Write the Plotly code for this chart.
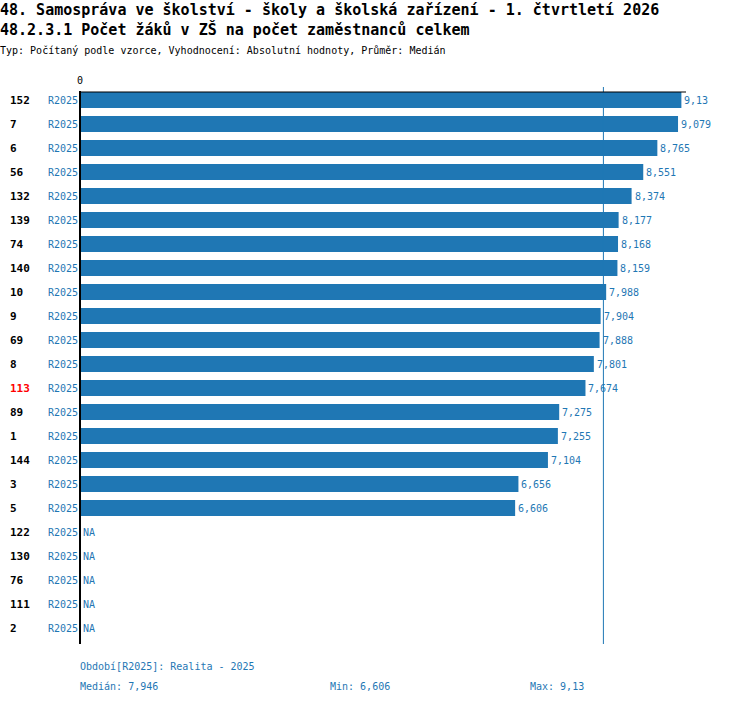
import plotly.graph_objects as go

# data
ids = ["152", "7", "6", "56", "132", "139", "74", "140", "10", "9", "69", "8",
       "113", "89", "1", "144", "3", "5", "122", "130", "76", "111", "2"]
values = [9.13, 9.079, 8.765, 8.551, 8.374, 8.177, 8.168, 8.159, 7.988, 7.904,
          7.888, 7.801, 7.674, 7.275, 7.255, 7.104, 6.656, 6.606,
          None, None, None, None, None]
period = "R2025"
highlight = "113"
median = 7.946
vmin = 6.606
vmax = 9.13

W, H = 750, 704
BLUE = "#1f77b4"
FONT = "DejaVu Sans Mono"


def px(p):
    return p / W


def py(p):
    return 1 - p / H


def fmt(v):
    return "NA" if v is None else f"{v:g}".replace(".", ",")


fig = go.Figure()

fig.add_trace(go.Bar(
    x=values, y=ids, orientation="h",
    marker=dict(color=BLUE, line=dict(width=0)),
    width=0.67, hoverinfo="skip", showlegend=False,
))

ann = []
for k, (i, v) in enumerate(zip(ids, values)):
    ann.append(dict(x=px(10), xref="paper", y=k, yref="y", text=f"<b>{i}</b>",
                    xanchor="left", yanchor="middle", xshift=-2, showarrow=False,
                    font=dict(family=FONT, size=11, color="red" if i == highlight else "black")))
    ann.append(dict(x=px(79), xref="paper", y=k, yref="y", text=period,
                    xanchor="right", yanchor="middle", xshift=1, showarrow=False,
                    font=dict(family=FONT, size=10, color=BLUE)))
    # value label right of the bar
    ann.append(dict(x=0 if v is None else v, xref="x", y=k, yref="y", text=fmt(v),
                    xanchor="left", yanchor="middle", xshift=1, showarrow=False,
                    font=dict(family=FONT, size=10, color=BLUE)))

titles = [
    (10, "<b>48. Samospráva ve školství - školy a školská zařízení - 1. čtvrtletí 2026</b>", 15),
    (30, "<b>48.2.3.1 Počet žáků v ZŠ na počet zaměstnanců celkem</b>", 15),
    (50, "Typ: Počítaný podle vzorce, Vyhodnocení: Absolutní hodnoty, Průměr: Medián", 10),
]
for y, t, s in titles:
    ann.append(dict(x=px(0), xref="paper", y=py(y), yref="paper", text=t,
                    xanchor="left", yanchor="middle", xshift=-2, showarrow=False,
                    font=dict(family=FONT, size=s, color="black")))

ann.append(dict(x=0, xref="x", y=py(81), yref="paper", text="0",
                xanchor="center", yanchor="middle", showarrow=False,
                font=dict(family=FONT, size=10, color="black")))

footer = [
    (80, 666, f"Období[{period}]: Realita - 2025"),
    (80, 686, f"Medián: {fmt(median)}"),
    (330, 686, f"Min: {fmt(vmin)}"),
    (530, 686, f"Max: {fmt(vmax)}"),
]
for x, y, t in footer:
    ann.append(dict(x=px(x), xref="paper", y=py(y), yref="paper", text=t,
                    xanchor="left", yanchor="middle", xshift=-2, showarrow=False,
                    font=dict(family=FONT, size=10, color=BLUE)))

shapes = [
    # median line
    dict(type="line", xref="x", yref="paper", x0=median, x1=median,
         y0=py(87), y1=py(644), line=dict(color=BLUE, width=1)),
    # top axis line
    dict(type="line", xref="paper", yref="paper", x0=px(80), x1=px(686),
         y0=py(92), y1=py(92), line=dict(color="black", width=1.2)),
    # left axis line
    dict(type="line", xref="paper", yref="paper", x0=px(80), x1=px(80),
         y0=py(91), y1=py(644), line=dict(color="black", width=2)),
]

fig.update_layout(
    width=W, height=H,
    margin=dict(l=0, r=0, t=0, b=0),
    plot_bgcolor="white", paper_bgcolor="white",
    xaxis=dict(domain=[px(80), px(686)], range=[0, 9.2], showgrid=False,
               zeroline=False, showticklabels=False, showline=False),
    yaxis=dict(domain=[py(640), py(88)], type="category", categoryarray=ids,
               range=[len(ids) - 0.5, -0.5], showgrid=False, zeroline=False,
               showticklabels=False, showline=False),
    annotations=ann, shapes=shapes,
    bargap=0.33,
)

fig.write_html("out.html", config={"displayModeBar": False},
               post_script="document.body.style.margin='0';")
